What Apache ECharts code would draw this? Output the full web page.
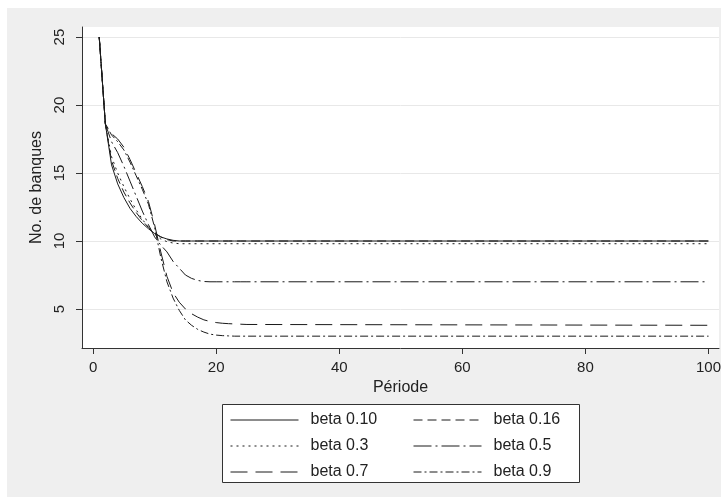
<!DOCTYPE html>
<html>
<head>
<meta charset="utf-8">
<script src="https://cdn.jsdelivr.net/npm/echarts@6/dist/echarts.min.js"></script>
<style>
  html, body { margin: 0; padding: 0; background: #fff; }
  #main { width: 727px; height: 497px; }
</style>
</head>
<body>
<div id="main"></div>
<script>
// periods 1..25, then the flat tail ends at 100
var periods = [1, 2, 3, 4, 5, 6, 7, 8, 9, 10, 11, 12, 13, 14, 15, 16, 17, 18, 19, 20, 21, 22, 23, 24, 25, 100];

var beta010 = [25, 18.6, 15.6, 14.2, 13.2, 12.4, 11.8, 11.3, 10.9, 10.55, 10.3, 10.15, 10.05, 10, 10, 10, 10, 10, 10, 10, 10, 10, 10, 10, 10, 10];
var beta016 = [25, 18.6, 15.9, 14.6, 13.6, 12.8, 12.1, 11.5, 11.0, 10.6, 10.3, 10.1, 10.0, 10, 10, 10, 10, 10, 10, 10, 10, 10, 10, 10, 10, 10];
var beta03  = [25, 18.6, 16.2, 15.0, 14.0, 13.1, 12.3, 11.6, 11.0, 10.5, 10.15, 9.95, 9.85, 9.8, 9.8, 9.8, 9.8, 9.8, 9.8, 9.8, 9.8, 9.8, 9.8, 9.8, 9.8, 9.8];
var beta05  = [25, 18.6, 17.3, 16.5, 15.5, 14.4, 13.3, 12.2, 11.2, 10.3, 9.7, 9.2, 8.5, 8.0, 7.5, 7.25, 7.1, 7.02, 7.0, 7.0, 7.0, 7.0, 7.0, 7.0, 7.0, 7.0];
var beta07  = [25, 18.6, 17.9, 17.5, 16.9, 16.0, 15.0, 14.0, 12.9, 11.2, 9.2, 7.4, 6.2, 5.5, 5.0, 4.65, 4.4, 4.2, 4.08, 4.0, 3.95, 3.92, 3.9, 3.88, 3.86, 3.8];
var beta09  = [25, 18.6, 17.8, 17.3, 16.7, 15.8, 14.8, 13.8, 12.7, 11.0, 8.8, 7.0, 5.8, 4.9, 4.2, 3.8, 3.5, 3.3, 3.15, 3.08, 3.04, 3.02, 3.0, 3.0, 3.0, 3.0];

var seriesNames = ['beta 0.10', 'beta 0.16', 'beta 0.3', 'beta 0.5', 'beta 0.7', 'beta 0.9'];
var xTicks = [0, 20, 40, 60, 80, 100];
var yTicks = [5, 10, 15, 20, 25];

var allValues = [beta010, beta016, beta03, beta05, beta07, beta09];
var dashes = ['solid', [9, 5], [2, 4], [18, 4, 2, 4], [17, 8], [8, 3, 2, 3]];

var myChart = echarts.init(document.getElementById('main'));

function pairs(vals) {
    return periods.map(function (p, i) { return [p, vals[i]]; });
}

var textFont = '"Liberation Sans", Arial, sans-serif';

var legendBase = {
    orient: 'vertical',
    top: 407,
    itemWidth: 68, itemHeight: 13, itemGap: 10,
    itemStyle: { opacity: 0 },
    lineStyle: { width: 1 },
    textStyle: { color: '#222', fontSize: 16, fontFamily: textFont, padding: [0, 0, 0, 7] },
    z: 5
};

var option = {
    backgroundColor: '#efefef',
    animation: false,
    graphic: [
        { type: 'rect', shape: { x: 0, y: 0, width: 727, height: 8 }, style: { fill: '#fff' }, z: 1 },
        { type: 'rect', shape: { x: 0, y: 0, width: 7, height: 497 }, style: { fill: '#fff' }, z: 1 },
        { type: 'rect', shape: { x: 721, y: 0, width: 6, height: 497 }, style: { fill: '#fff' }, z: 1 },
        // legend box
        { type: 'rect', shape: { x: 222.5, y: 404.5, width: 357, height: 78 },
          style: { fill: '#fff', stroke: '#333', lineWidth: 1 }, z: 1 }
    ],
    grid: {
        left: 82, top: 27, right: 8, bottom: 149,
        show: true, backgroundColor: '#fff', borderWidth: 0
    },
    xAxis: {
        type: 'value',
        min: -1.8,
        max: 101.7,
        name: 'Période',
        nameLocation: 'middle',
        nameGap: 25,
        nameTextStyle: { color: '#222', fontSize: 16, fontFamily: textFont },
        axisLine: { onZero: false, lineStyle: { color: '#333', width: 1 } },
        axisTick: { show: true, length: 6, lineStyle: { color: '#333' }, customValues: xTicks },
        axisLabel: { color: '#222', fontSize: 15, fontFamily: textFont, margin: 12, customValues: xTicks },
        splitLine: { show: false }
    },
    yAxis: {
        type: 'value',
        min: 2.13,
        max: 25.74,
        name: 'No. de banques',
        nameLocation: 'middle',
        nameGap: 35,
        nameRotate: 90,
        nameTextStyle: { color: '#222', fontSize: 16, fontFamily: textFont },
        axisLine: { show: true, onZero: false, lineStyle: { color: '#333', width: 1 } },
        axisTick: { show: true, length: 6, lineStyle: { color: '#333' }, customValues: yTicks },
        axisLabel: { color: '#222', fontSize: 15, fontFamily: textFont, margin: 15, rotate: 90, customValues: yTicks },
        splitLine: { show: true, lineStyle: { color: '#e8e8e8', width: 1 } }
    },
    legend: [
        Object.assign({}, legendBase, { left: 225, data: [seriesNames[0], seriesNames[2], seriesNames[4]] }),
        Object.assign({}, legendBase, { left: 408, data: [seriesNames[1], seriesNames[3], seriesNames[5]] })
    ],
    series: seriesNames.map(function (name, i) {
        return {
            name: name,
            type: 'line',
            symbol: 'none',
            data: pairs(allValues[i]),
            lineStyle: { color: '#1a1a1a', width: 1, type: dashes[i] },
            itemStyle: { color: '#1a1a1a' },
            z: 3
        };
    })
};

myChart.setOption(option);
</script>
</body>
</html>
